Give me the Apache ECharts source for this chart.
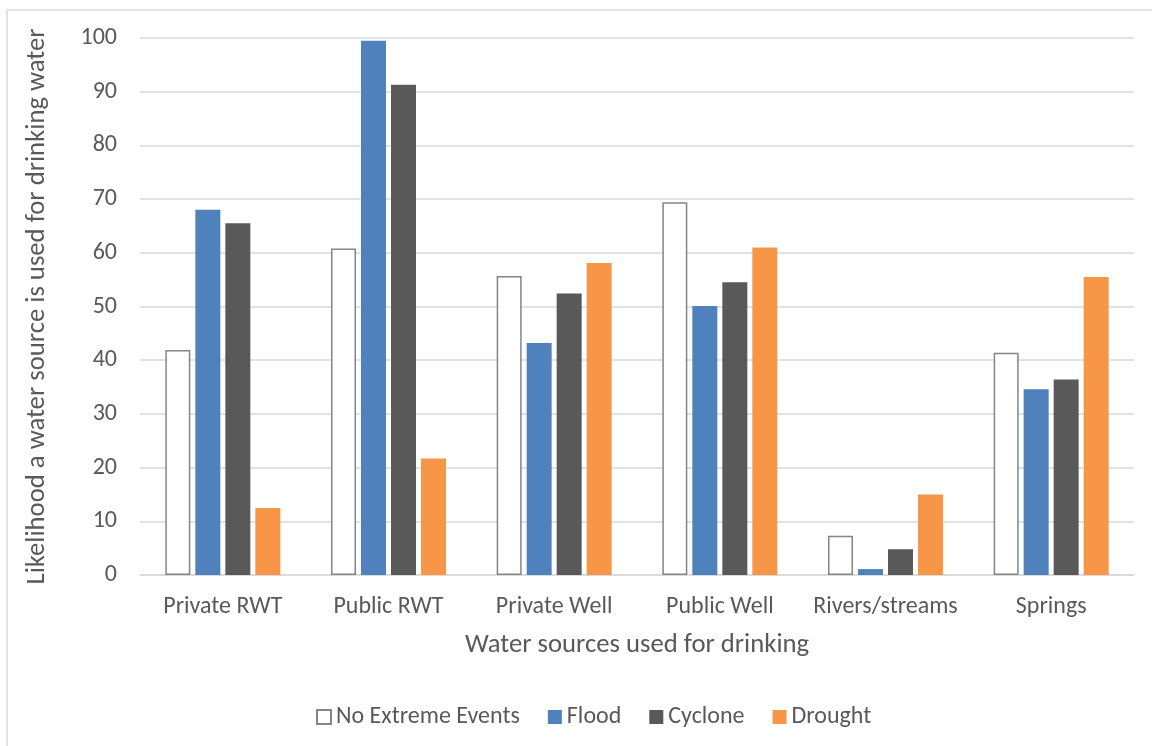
<!DOCTYPE html>
<html>
<head>
<meta charset="utf-8">
<script src="https://cdn.jsdelivr.net/npm/echarts@6/dist/echarts.min.js"></script>
<style>
html,body{margin:0;padding:0;background:#fff;}
#chart{width:1152px;height:746px;}
</style>
</head>
<body>
<div id="chart"></div>
<script>
var categories = ['Private RWT', 'Public RWT', 'Private Well', 'Public Well', 'Rivers/streams', 'Springs'];
var noExtreme = [41.9, 60.8, 55.7, 69.4, 7.3, 41.4];
var flood = [68.0, 99.5, 43.2, 50.1, 1.1, 34.6];
var cyclone = [65.5, 91.3, 52.4, 54.5, 4.8, 36.4];
var drought = [12.5, 21.7, 58.1, 61.0, 15.0, 55.5];
var yTicks = [0, 10, 20, 30, 40, 50, 60, 70, 80, 90, 100];

var txt = '#595959';
var font = 'Calibri, Carlito, "Open Sans", "Noto Sans", sans-serif';
var chart = echarts.init(document.getElementById('chart'));
chart.setOption({
  animation: false,
  backgroundColor: '#fff',
  textStyle: {fontFamily: font, color: txt},
  graphic: [{
    type: 'rect',
    shape: {x: 7, y: 10, width: 1170, height: 760},
    style: {fill: 'none', stroke: '#d9d9d9', lineWidth: 1.5},
    silent: true
  }],
  legend: {
    top: 700,
    left: 311,
    itemWidth: 14,
    itemHeight: 14,
    itemGap: 28,
    icon: 'rect',
    textStyle: {fontSize: 24, color: txt, fontFamily: font},
    data: ['No Extreme Events', 'Flood', 'Cyclone', 'Drought']
  },
  grid: {left: 140, right: 18, top: 38, bottom: 171},
  xAxis: {
    type: 'category',
    data: categories,
    name: 'Water sources used for drinking',
    nameLocation: 'middle',
    nameGap: 57,
    nameTextStyle: {fontSize: 26.7, color: txt, fontFamily: font},
    axisLine: {lineStyle: {color: '#d9d9d9', width: 1.5}},
    axisTick: {show: false},
    axisLabel: {fontSize: 24, color: txt, margin: 20, interval: 0, fontFamily: font}
  },
  yAxis: {
    type: 'value',
    min: yTicks[0],
    max: yTicks[yTicks.length - 1],
    interval: 10,
    name: 'Likelihood a water source is used for drinking water',
    nameLocation: 'middle',
    nameGap: 89,
    nameTextStyle: {fontSize: 26.7, color: txt, fontFamily: font},
    axisLine: {show: false},
    axisTick: {show: false},
    axisLabel: {fontSize: 24, color: txt, margin: 23, fontFamily: font},
    splitLine: {lineStyle: {color: '#d9d9d9', width: 1.5}}
  },
  series: [
    {name: 'No Extreme Events', type: 'bar', data: noExtreme, barWidth: 25, barGap: '20%',
     itemStyle: {color: '#ffffff', borderColor: '#858585', borderWidth: 1.5}},
    {name: 'Flood', type: 'bar', data: flood, barWidth: 25, barGap: '20%',
     itemStyle: {color: '#4F81BD'}},
    {name: 'Cyclone', type: 'bar', data: cyclone, barWidth: 25, barGap: '20%',
     itemStyle: {color: '#595959'}},
    {name: 'Drought', type: 'bar', data: drought, barWidth: 25, barGap: '20%',
     itemStyle: {color: '#F79646'}}
  ]
});
</script>
</body>
</html>
